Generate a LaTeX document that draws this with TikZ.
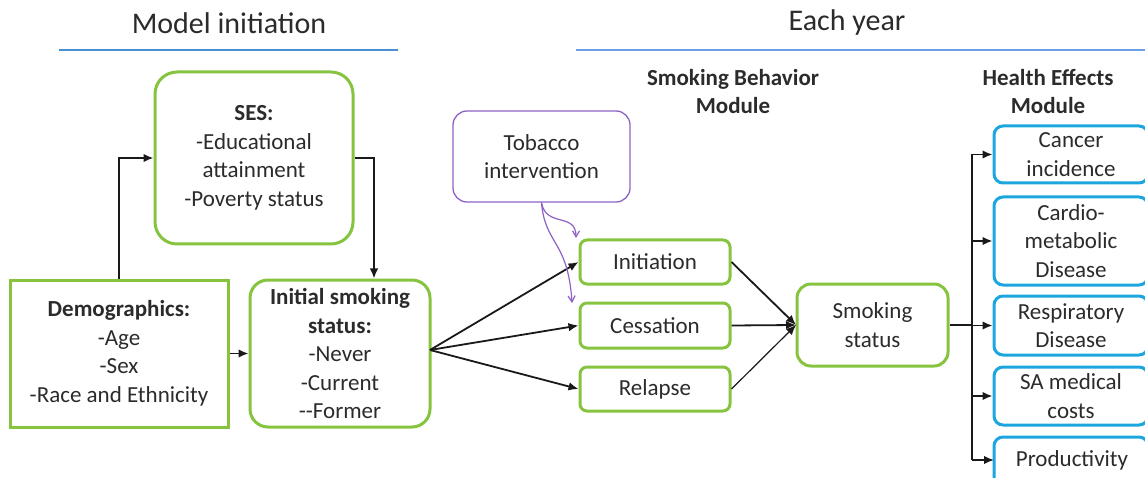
\documentclass[tikz,border=0pt]{standalone}
\usepackage{fontspec}
\setmainfont{Carlito}
\usetikzlibrary{arrows.meta}
\definecolor{gr}{HTML}{86C440}
\definecolor{bl}{HTML}{1CA6E0}
\definecolor{pu}{HTML}{8E62C4}
\definecolor{tx}{HTML}{2B2B2B}
\definecolor{ul}{HTML}{4A8FD0}
\definecolor{ul2}{HTML}{6E9EE6}
\begin{document}
\begin{tikzpicture}[x=1pt,y=-1pt,
  txt/.style={text=tx,font=\fontsize{23}{28.5}\selectfont,align=center,inner sep=0pt},
  gbox/.style={draw=gr,line width=3pt,rounded corners=22pt,txt},
  sbox/.style={draw=gr,line width=3pt,rounded corners=7pt,txt},
  hbox/.style={draw=bl,line width=3pt,rounded corners=9pt,txt},
  conn/.style={draw=black!90,line width=1.8pt,-{Latex[length=10pt,width=8.5pt]}},
  pconn/.style={draw=pu,line width=1.2pt,-{Straight Barb[length=6pt,width=7pt]}},
  title/.style={text=tx,font=\fontsize{30}{34}\selectfont,inner sep=0pt},
  hdr/.style={text=tx,font=\bfseries\fontsize{23}{28}\selectfont,align=center,inner sep=0pt}]
\useasboundingbox (0,0) rectangle (1145,478);
\clip (0,0) rectangle (1145,478);

% titles
\node[title] (t1) at (229,23) {Model initiation};
\node[title] (t2) at (847,23) {Each year};
\draw[ul,line width=2pt] (59,50) -- (398,50);
\draw[ul2,line width=2pt] (576,50) -- (1145,50);
\node[hdr] (h1) at (733,92) {Smoking Behavior\\Module};
\node[hdr] (h2) at (1048,92) {Health Effects\\Module};

% model initiation boxes
\node[gbox,minimum width=198pt,minimum height=172pt] (ses) at (254,158)
  {\textbf{SES:}\\-Educational\\attainment\\-Poverty status};
\node[draw=gr,line width=3pt,txt,minimum width=218pt,minimum height=147pt] (demo) at (119,353.5)
  {\textbf{Demographics:}\\-Age\\-Sex\\-Race and Ethnicity};
\node[gbox,rounded corners=18pt,minimum width=180pt,minimum height=147pt] (init) at (340,353.5)
  {\textbf{Initial smoking}\\\textbf{status:}\\-Never\\-Current\\-{}-Former};

% smoking behaviour
\node[draw=pu,line width=1.3pt,rounded corners=14pt,txt,minimum width=177pt,minimum height=91pt] (tob) at (541.5,156.5)
  {Tobacco\\intervention};
\node[sbox,minimum width=150pt,minimum height=44pt] (ini) at (655,262) {Initiation};
\node[sbox,minimum width=150pt,minimum height=45pt] (ces) at (655,325.5) {Cessation};
\node[sbox,minimum width=150pt,minimum height=44pt] (rel) at (655,389) {Relapse};
\node[gbox,rounded corners=14pt,minimum width=151pt,minimum height=82pt] (smk) at (872.5,325) {Smoking\\status};

% health effects
\node[hbox,minimum width=154pt,minimum height=57pt] (can) at (1071,154.5) {Cancer\\incidence};
\node[hbox,minimum width=154pt,minimum height=88pt] (car) at (1071,241) {Cardio-\\metabolic\\Disease};
\node[hbox,minimum width=154pt,minimum height=59pt] (res) at (1071,325.5) {Respiratory\\Disease};
\node[hbox,minimum width=154pt,minimum height=58pt] (sam) at (1071,396) {SA medical\\costs};
\node[hbox,minimum width=154pt,minimum height=58pt] (pro) at (1071,466) {};
\node[txt] (prot) at (1072,460) {Productivity};

% connectors: model initiation
\draw[conn] (demo.north) |- (ses.west);
\draw[conn] (ses.east) -| (init.north -| 374,0);
\draw[conn] (demo.east) -- (init.west);

% initial -> behaviours
\coordinate (io) at (430,350);
\draw[conn] (io) -- (ini.west);
\draw[conn] (io) -- (ces.west);
\draw[conn] (io) -- (rel.west);

% behaviours -> smoking status
\coordinate (jn) at (796,325);
\draw[conn] (ini.east) -- (jn);
\draw[conn] (ces.east) -- (jn);
\draw[conn,line width=1.2pt] (rel.east) -- (jn);

% tobacco intervention
\coordinate (p1) at (576,238);
\coordinate (p2) at (572,303);
\draw[pconn] (tob.south) .. controls (546,228) and (576,212) .. (p1);
\draw[pconn] (tob.south) .. controls (545,245) and (568,240) .. (p2);

% smoking status -> health
\coordinate (tr) at (972,325);
\draw[conn,-] (smk.east) -- (tr);
\draw[black!90,line width=1.8pt] (972,154.5) -- (972,460);
\draw[conn] (972,154.5) -- (can.west);
\draw[conn] (972,241) -- (car.west);
\draw[conn] (972,325.5) -- (res.west);
\draw[conn] (972,396) -- (sam.west);
\draw[conn] (972,460) -- (994,460);
\end{tikzpicture}
\end{document}
